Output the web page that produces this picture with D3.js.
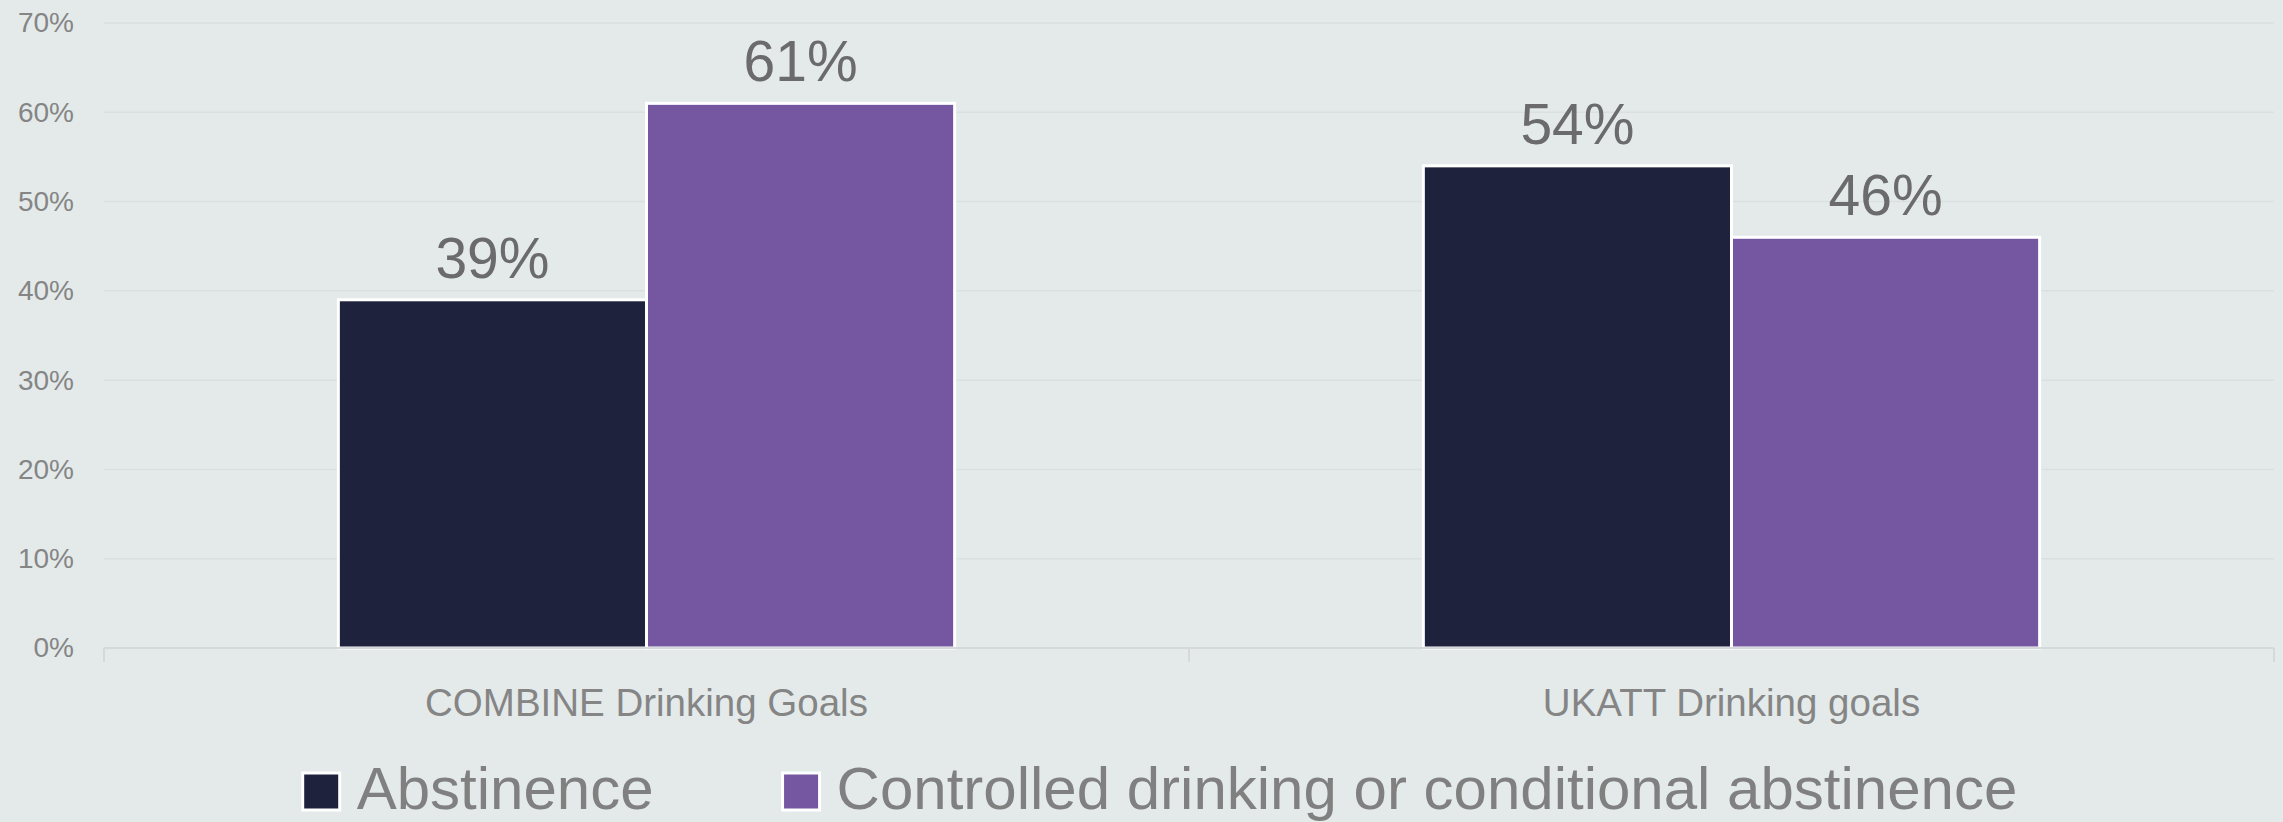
<!DOCTYPE html>
<html>
<head>
<meta charset="utf-8">
<script src="https://cdn.jsdelivr.net/npm/d3@7"></script>
<style>
  html, body { margin: 0; padding: 0; background: #e4eaea; }
  svg { display: block; font-family: "Liberation Sans", Arial, sans-serif; }
</style>
</head>
<body>
<div id="chart"></div>
<script>
// data
const categories = ["COMBINE Drinking Goals", "UKATT Drinking goals"];
const seriesNames = ["Abstinence", "Controlled drinking or conditional abstinence"];
const abstinence = [0.39, 0.54];
const controlled = [0.61, 0.46];
const yTicks = [0, 0.1, 0.2, 0.3, 0.4, 0.5, 0.6, 0.7];
const colors = ["#1f223d", "#7556a1"];

(function () {
    const W = 2283, H = 822;
    const margin = { top: 23, right: 9, bottom: 174, left: 104 },
        width = W - margin.left - margin.right,
        height = H - margin.top - margin.bottom;

    const rows = categories.map((c, i) => ({ cat: c, values: [abstinence[i], controlled[i]] }));

    const svg = d3.select("#chart")
        .append("svg")
        .attr("width", W)
        .attr("height", H);

    svg.append("rect").attr("width", W).attr("height", H).attr("fill", "#e4eaea");

    const g = svg.append("g")
        .attr("transform", `translate(${margin.left},${margin.top})`);

    // scales
    const x0 = d3.scaleBand()
        .domain(categories)
        .range([0, width])
        .paddingInner(0.432)
        .paddingOuter(0.216);

    const x1 = d3.scaleBand()
        .domain(seriesNames)
        .range([0, x0.bandwidth()]);

    const y = d3.scaleLinear()
        .domain([0, 0.7])
        .range([height, 0]);

    // gridlines
    g.append("g")
        .selectAll("line")
        .data(yTicks)
        .enter()
        .append("line")
        .attr("x1", 0)
        .attr("x2", width)
        .attr("y1", d => y(d))
        .attr("y2", d => y(d))
        .attr("stroke", "#dadfe0")
        .attr("stroke-width", 1.5);

    // Y axis labels
    const yAxis = g.append("g")
        .call(d3.axisLeft(y).tickValues(yTicks).tickFormat(d3.format(".0%")).tickSize(0).tickPadding(30));
    yAxis.select(".domain").remove();
    yAxis.selectAll("text")
        .attr("fill", "#858585")
        .style("font-size", "28px");

    // bars
    const groups = g.selectAll(".grp")
        .data(rows)
        .enter()
        .append("g")
        .attr("class", "grp")
        .attr("transform", d => `translate(${x0(d.cat)},0)`);

    groups.selectAll("rect")
        .data(d => d.values.map((v, i) => ({ key: seriesNames[i], value: v, i: i })))
        .enter()
        .append("rect")
        .attr("x", d => x1(d.key))
        .attr("y", d => y(d.value))
        .attr("width", x1.bandwidth())
        .attr("height", d => y(0) - y(d.value))
        .attr("fill", d => colors[d.i])
        .attr("stroke", "#ffffff")
        .attr("stroke-width", 3);

    // value labels
    groups.selectAll(".val")
        .data(d => d.values.map((v, i) => ({ key: seriesNames[i], value: v })))
        .enter()
        .append("text")
        .attr("class", "val")
        .attr("x", d => x1(d.key) + x1.bandwidth() / 2)
        .attr("y", d => y(d.value) - 22)
        .attr("text-anchor", "middle")
        .attr("fill", "#6b6b6b")
        .style("font-size", "57px")
        .text(d => d3.format(".0%")(d.value));

    // X axis
    const xAxis = g.append("g")
        .attr("transform", `translate(0,${height})`);
    xAxis.append("line")
        .attr("x1", 0).attr("x2", width)
        .attr("stroke", "#d6d9db").attr("stroke-width", 2);
    xAxis.selectAll(".tk")
        .data([0, width / 2, width])
        .enter()
        .append("line")
        .attr("x1", d => d).attr("x2", d => d)
        .attr("y1", 0).attr("y2", 14)
        .attr("stroke", "#d6d9db").attr("stroke-width", 2);
    xAxis.selectAll(".cat")
        .data(categories)
        .enter()
        .append("text")
        .attr("x", d => x0(d) + x0.bandwidth() / 2)
        .attr("y", 68)
        .attr("text-anchor", "middle")
        .attr("fill", "#858585")
        .style("font-size", "38.5px")
        .text(d => d);

    // legend
    const legend = svg.append("g");
    const items = legend.selectAll(".item")
        .data(seriesNames)
        .enter()
        .append("g")
        .attr("class", "item");
    items.append("rect")
        .attr("x", 0).attr("y", 773)
        .attr("width", 37).attr("height", 37)
        .attr("fill", (d, i) => colors[i])
        .attr("stroke", "#ffffff").attr("stroke-width", 3);
    items.append("text")
        .attr("x", 54).attr("y", 809)
        .attr("fill", "#808080")
        .style("font-size", "60px")
        .text(d => d);

    const widths = [];
    items.each(function () {
        widths.push(54 + d3.select(this).select("text").node().getComputedTextLength());
    });
    const gapItems = 129;
    const total = d3.sum(widths) + gapItems * (widths.length - 1);
    let cursor = 1160 - total / 2;
    items.attr("transform", (d, i) => {
        const t = `translate(${cursor},0)`;
        cursor += widths[i] + gapItems;
        return t;
    });
})();
</script>
</body>
</html>
